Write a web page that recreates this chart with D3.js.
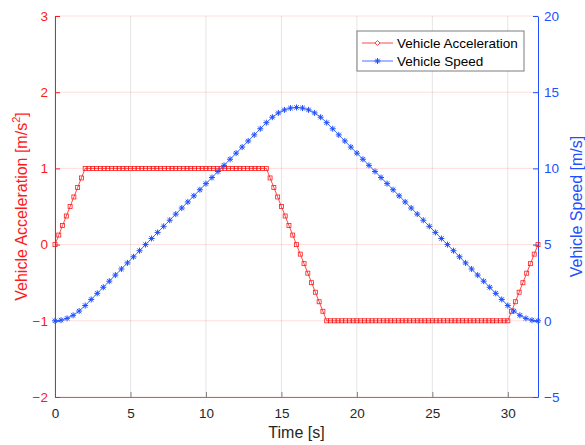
<!DOCTYPE html>
<html>
<head>
<meta charset="utf-8">
<script src="https://cdn.jsdelivr.net/npm/d3@7"></script>
<style>
  body { margin: 0; background: #fff; }
  svg { font-family: "Liberation Sans", Arial, sans-serif; }
</style>
</head>
<body>
<svg id="chart" width="585" height="445"></svg>
<script>
// acceleration samples, every 0.25 s
const accTime = [0,0.25,0.5,0.75,1,1.25,1.5,1.75,2,2.25,2.5,2.75,3,3.25,3.5,3.75,4,4.25,4.5,4.75,5,5.25,5.5,5.75,6,6.25,6.5,6.75,7,7.25,7.5,7.75,8,8.25,8.5,8.75,9,9.25,9.5,9.75,10,10.25,10.5,10.75,11,11.25,11.5,11.75,12,12.25,12.5,12.75,13,13.25,13.5,13.75,14,14.25,14.5,14.75,15,15.25,15.5,15.75,16,16.25,16.5,16.75,17,17.25,17.5,17.75,18,18.25,18.5,18.75,19,19.25,19.5,19.75,20,20.25,20.5,20.75,21,21.25,21.5,21.75,22,22.25,22.5,22.75,23,23.25,23.5,23.75,24,24.25,24.5,24.75,25,25.25,25.5,25.75,26,26.25,26.5,26.75,27,27.25,27.5,27.75,28,28.25,28.5,28.75,29,29.25,29.5,29.75,30,30.25,30.5,30.75,31,31.25,31.5,31.75,32];
const accValue = [
  0,0.125,0.25,0.375,0.5,0.625,0.75,0.875,1,
  1,1,1,1,1,1,1,1,
  1,1,1,1,1,1,1,1,
  1,1,1,1,1,1,1,1,
  1,1,1,1,1,1,1,1,
  1,1,1,1,1,1,1,1,
  1,1,1,1,1,1,1,1,
  0.875,0.75,0.625,0.5,0.375,0.25,0.125,0,
  -0.125,-0.25,-0.375,-0.5,-0.625,-0.75,-0.875,-1,
  -1,-1,-1,-1,-1,-1,-1,-1,
  -1,-1,-1,-1,-1,-1,-1,-1,
  -1,-1,-1,-1,-1,-1,-1,-1,
  -1,-1,-1,-1,-1,-1,-1,-1,
  -1,-1,-1,-1,-1,-1,-1,-1,
  -1,-1,-1,-1,-1,-1,-1,-1,
  -0.875,-0.75,-0.625,-0.5,-0.375,-0.25,-0.125,0];

// speed samples, every 0.4 s
const spdTime = [0,0.4,0.8,1.2,1.6,2,2.4,2.8,3.2,3.6,4,4.4,4.8,5.2,5.6,6,6.4,6.8,7.2,7.6,8,8.4,8.8,9.2,9.6,10,10.4,10.8,11.2,11.6,12,12.4,12.8,13.2,13.6,14,14.4,14.8,15.2,15.6,16,16.4,16.8,17.2,17.6,18,18.4,18.8,19.2,19.6,20,20.4,20.8,21.2,21.6,22,22.4,22.8,23.2,23.6,24,24.4,24.8,25.2,25.6,26,26.4,26.8,27.2,27.6,28,28.4,28.8,29.2,29.6,30,30.4,30.8,31.2,31.6,32];
const spdValue = [0,0.04,0.16,0.36,0.64,1,1.4,1.8,2.2,2.6,3,3.4,3.8,4.2,4.6,5,5.4,5.8,6.2,6.6,7,7.4,7.8,8.2,8.6,9,9.4,9.8,10.2,10.6,11,11.4,11.8,12.2,12.6,13,13.36,13.64,13.84,13.96,14,13.96,13.84,13.64,13.36,13,12.6,12.2,11.8,11.4,11,10.6,10.2,9.8,9.4,9,8.6,8.2,7.8,7.4,7,6.6,6.2,5.8,5.4,5,4.6,4.2,3.8,3.4,3,2.6,2.2,1.8,1.4,1,0.64,0.36,0.16,0.04,0];

const xTicks = [0, 5, 10, 15, 20, 25, 30];
const accTicks = [-2, -1, 0, 1, 2, 3];
const spdTicks = [-5, 0, 5, 10, 15, 20];
const seriesNames = ["Vehicle Acceleration", "Vehicle Speed"];

const RED = "#ff1a1a", BLUE = "#1f4fff";
const TICK_FS = "13.5px", LABEL_FS = "16px";
const margin = { top: 16, right: 47, bottom: 48, left: 55 };
const W = 585, H = 445;
const svg = d3.select("#chart");
const x = d3.scaleLinear().domain([0, 32]).range([margin.left, W - margin.right]);
const yL = d3.scaleLinear().domain([-2, 3]).range([H - margin.bottom, margin.top]);
const yR = d3.scaleLinear().domain([-5, 20]).range([H - margin.bottom, margin.top]);
const pTop = margin.top, pBottom = H - margin.bottom, pLeft = margin.left, pRight = W - margin.right;
const fmt = d3.format("d");

// grid
svg.append("g").selectAll("line").data(xTicks).join("line")
  .attr("x1", d => x(d)).attr("x2", d => x(d)).attr("y1", pTop).attr("y2", pBottom)
  .attr("stroke", "#262626").attr("stroke-opacity", 0.12);
svg.append("g").selectAll("line").data(accTicks).join("line")
  .attr("x1", pLeft).attr("x2", pRight).attr("y1", d => yL(d)).attr("y2", d => yL(d))
  .attr("stroke", RED).attr("stroke-opacity", 0.15);

// x axis
const xAx = svg.append("g").attr("transform", `translate(0,${pBottom})`)
  .call(d3.axisBottom(x).tickValues(xTicks).tickFormat(fmt).tickSizeInner(-5).tickSizeOuter(0).tickPadding(11));
xAx.select(".domain").attr("stroke", "#808080");
xAx.selectAll(".tick line").attr("stroke", "#808080");
xAx.selectAll("text").attr("fill", "#262626").style("font-size", TICK_FS);

// left axis
const lAx = svg.append("g").attr("transform", `translate(${pLeft},0)`)
  .call(d3.axisLeft(yL).tickValues(accTicks).tickFormat(fmt).tickSizeInner(-5).tickSizeOuter(0).tickPadding(7));
lAx.select(".domain").attr("stroke", RED);
lAx.selectAll(".tick line").attr("stroke", RED);
lAx.selectAll("text").attr("fill", RED).style("font-size", TICK_FS);

// right axis
const rAx = svg.append("g").attr("transform", `translate(${pRight},0)`)
  .call(d3.axisRight(yR).tickValues(spdTicks).tickFormat(fmt).tickSizeInner(-5).tickSizeOuter(0).tickPadding(6));
rAx.select(".domain").attr("stroke", BLUE);
rAx.selectAll(".tick line").attr("stroke", BLUE);
rAx.selectAll("text").attr("fill", BLUE).style("font-size", TICK_FS);

// axis labels
svg.append("text").attr("x", (pLeft + pRight) / 2).attr("y", 438).attr("text-anchor", "middle")
  .attr("fill", "#262626").style("font-size", LABEL_FS).text("Time [s]");
const lLab = svg.append("text").attr("transform", `translate(27,${(pTop + pBottom) / 2}) rotate(-90)`)
  .attr("text-anchor", "middle").attr("fill", RED).style("font-size", LABEL_FS);
lLab.append("tspan").text("Vehicle Acceleration [m/s");
lLab.append("tspan").attr("dy", -7).style("font-size", "11px").text("2");
lLab.append("tspan").attr("dy", 7).text("]");
svg.append("text").attr("transform", `translate(582,${(pTop + pBottom) / 2}) rotate(-90)`)
  .attr("text-anchor", "middle").attr("fill", BLUE).style("font-size", LABEL_FS)
  .text("Vehicle Speed [m/s]");

// series
const acc = accTime.map((t, i) => ({ t, v: accValue[i] }));
const spd = spdTime.map((t, i) => ({ t, v: spdValue[i] }));

svg.append("path").datum(acc).attr("fill", "none").attr("stroke", RED).attr("stroke-width", 0.8)
  .attr("d", d3.line().x(d => x(d.t)).y(d => yL(d.v)));
svg.append("g").selectAll("rect").data(acc).join("rect")
  .attr("x", d => x(d.t) - 2).attr("y", d => yL(d.v) - 2).attr("width", 4).attr("height", 4)
  .attr("fill", "none").attr("stroke", RED).attr("stroke-width", 0.8);

svg.append("path").datum(spd).attr("fill", "none").attr("stroke", BLUE).attr("stroke-width", 0.8)
  .attr("d", d3.line().x(d => x(d.t)).y(d => yR(d.v)));
const starPath = "M-3,0H3M0,-3V3M-2.2,-2.2L2.2,2.2M-2.2,2.2L2.2,-2.2";
svg.append("g").selectAll("path").data(spd).join("path")
  .attr("transform", d => `translate(${x(d.t)},${yR(d.v)})`)
  .attr("d", starPath).attr("fill", "none").attr("stroke", BLUE).attr("stroke-width", 1);

// legend
const lg = svg.append("g").attr("transform", "translate(357,31)");
lg.append("rect").attr("width", 167).attr("height", 40).attr("fill", "#fff")
  .attr("stroke", "#262626").attr("stroke-opacity", 0.6).attr("stroke-width", 1);
seriesNames.forEach((name, i) => {
  const cy = 12 + i * 18;
  const c = i === 0 ? RED : BLUE;
  lg.append("line").attr("x1", 5).attr("x2", 36).attr("y1", cy).attr("y2", cy)
    .attr("stroke", c).attr("stroke-width", 0.8);
  if (i === 0) {
    lg.append("path").attr("d", `M20.5,${cy - 2.5}L23,${cy}L20.5,${cy + 2.5}L18,${cy}Z`)
      .attr("fill", "#fff").attr("stroke", c).attr("stroke-width", 0.8);
  } else {
    lg.append("path").attr("transform", `translate(20.5,${cy})`).attr("d", starPath)
      .attr("fill", "none").attr("stroke", c).attr("stroke-width", 1);
  }
  lg.append("text").attr("x", 40).attr("y", cy + 5).attr("fill", "#000")
    .style("font-size", "13.5px").text(name);
});
</script>
</body>
</html>
